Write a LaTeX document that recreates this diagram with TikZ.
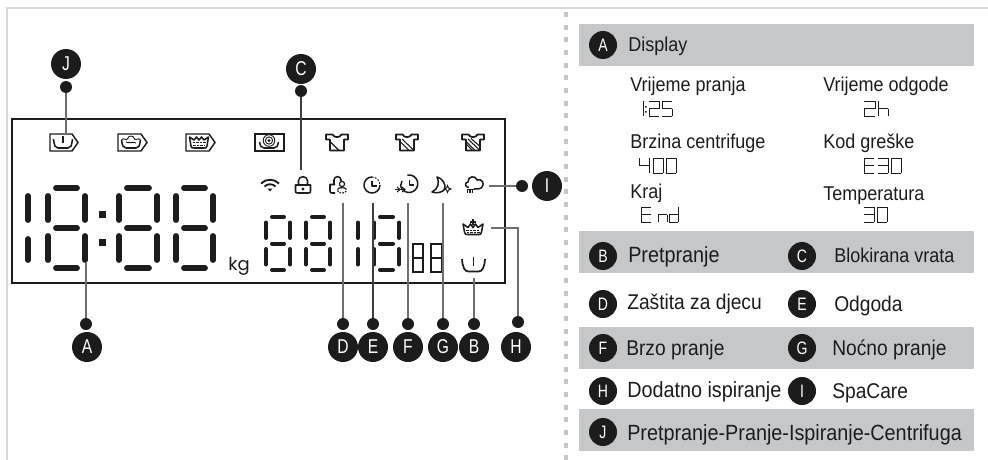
\documentclass[tikz,border=0pt]{standalone}
\usepackage{fontspec}
\setmainfont{Liberation Sans}
\newfontfamily\narrowfont[FakeStretch=0.9]{Liberation Sans}
\newfontfamily\badgefont[FakeStretch=0.78]{Liberation Sans}
\newfontfamily\kgfont{Poppins}
\definecolor{ink}{HTML}{1C1C1C}
\definecolor{barc}{HTML}{C6C7C9}
\definecolor{framec}{HTML}{DADADA}
\definecolor{leadc}{HTML}{6E6E6E}
\newcommand\sga[4]{(#1,#2) -- (#1+#3,#2)}
\newcommand\sgg[4]{(#1,#2+#4/2) -- (#1+#3,#2+#4/2)}
\newcommand\sgd[4]{(#1,#2+#4) -- (#1+#3,#2+#4)}
\newcommand\sgf[4]{(#1,#2) -- (#1,#2+#4/2)}
\newcommand\sge[4]{(#1,#2+#4/2) -- (#1,#2+#4)}
\newcommand\sgb[4]{(#1+#3,#2) -- (#1+#3,#2+#4/2)}
\newcommand\sgc[4]{(#1+#3,#2+#4/2) -- (#1+#3,#2+#4)}
% x, y, w, h, style, segments
\newcommand\sevenseg[6]{\foreach \s in {#6}{\draw[#5] \csname sg\s\endcsname{#1}{#2}{#3}{#4};}}
% big LCD segments, inset from the digit's corners
\newcommand\bigH[3]{\draw[bigseg] (#1+8,#3) -- (#2-8,#3);}
\newcommand\bigV[3]{\draw[bigseg] (#1,#2+8) -- (#1,#3-8);}
\newcommand\bigEight[2]{\bigH{#1}{#2}{188}\bigH{#1}{#2}{228}\bigH{#1}{#2}{268}\bigV{#1}{188}{228}\bigV{#1}{228}{268}\bigV{#2}{188}{228}\bigV{#2}{228}{268}}
\newcommand\midH[3]{\draw[midseg] (#1+6,#3) -- (#2-6,#3);}
\newcommand\midV[3]{\draw[midseg] (#1,#2+5.5) -- (#1,#3-5.5);}
\newcommand\midEight[2]{\midH{#1}{#2}{217}\midH{#1}{#2}{243.5}\midH{#1}{#2}{270}\midV{#1}{217}{243.5}\midV{#1}{243.5}{270}\midV{#2}{217}{243.5}\midV{#2}{243.5}{270}}
\newcommand\tubshape{(-9.5,-4) .. controls (-8.5,3) and (-8,5) .. (-5,5) -- (5,5) .. controls (8,5) and (8.5,3) .. (9.5,-4)}
\tikzset{
  x=0.75pt,y=-0.75pt,
  bigseg/.style={line width=4.4pt,line cap=round,draw=ink},
  midseg/.style={line width=3pt,line cap=round,draw=ink},
  lcdtxt/.style={line width=0.7pt,draw=ink},
  outseg/.style={line width=0.8pt,draw=ink},
  icon/.style={line width=1.15pt,draw=ink,line join=round},
  iconthin/.style={line width=0.7pt,draw=ink},
  boxicon/.style={line width=1.1pt,draw=ink,fill=white},
  lead/.style={line width=0.8pt,draw=leadc},
  leaddark/.style={line width=0.8pt,draw=ink!85},
  badge/.style={circle,fill=ink,text=white,inner sep=0pt,minimum size=22.5pt,font=\badgefont\fontsize{15}{15}\selectfont},
  lbadge/.style={circle,fill=ink,text=white,inner sep=0pt,minimum size=21pt,font=\badgefont\fontsize{13.5}{14}\selectfont},
  dotn/.style={circle,fill=ink,inner sep=0pt,minimum size=9pt},
  bar/.style={fill=barc,draw=none},
  ltext/.style={anchor=base west,inner sep=0pt,text=ink,font=\narrowfont\fontsize{15}{15}\selectfont},
  ltextb/.style={ltext,font=\narrowfont\fontsize{16}{16}\selectfont},
  ltextc/.style={ltext,font=\narrowfont\fontsize{16.5}{17}\selectfont},
}
\begin{document}
\begin{tikzpicture}
\useasboundingbox[fill=white] (0,0) rectangle (988,460);
% page frame and dashed divider
\draw[framec,line width=1.5pt] (7,460) -- (7,8.5) -- (988,8.5);
\draw[gray!45,line width=2.4pt,dash pattern=on 3.75pt off 5.75pt] (566,12) -- (566,460);
% display frame
\draw[ink,line width=0.95pt] (12,119) rectangle (505,283);
% big digits
\draw[bigseg] (28,196) -- (28,220);\draw[bigseg] (28,239) -- (28,260);
\bigEight{48}{85}
\fill[ink] (98.5,210.5) rectangle (105.5,217.5);
\fill[ink] (98.5,238.5) rectangle (105.5,245.5);
\bigEight{119}{157}
\bigEight{176}{213}
\node[anchor=base west,inner sep=0pt,text=ink,font=\kgfont\fontsize{13.5}{14}\selectfont] (kg) at (228,270) {kg};
% medium digits
\midEight{266}{290}
\midEight{306}{330}
\midV{358}{217}{243.5}\midV{358}{243.5}{270}
\midEight{374}{399}
% small outline digits
\draw[outseg] (413,244) rectangle (423,272) (413,258) -- (423,258);
\draw[outseg] (431,244) rectangle (442,272) (431,258) -- (442,258);
% programme icons
\draw[boxicon] (50,134) -- (72,134) -- (78,142.5) -- (72,151) -- (50,151) -- cycle;
\draw[boxicon] (118,134) -- (141,134) -- (147,142.5) -- (141,151) -- (118,151) -- cycle;
\draw[boxicon] (186,134) -- (209,134) -- (215,142.5) -- (209,151) -- (186,151) -- cycle;
\draw[boxicon] (255,134) rectangle (284,151);
\begin{scope}[shift={(63,143)}]
 \draw[icon] \tubshape; \draw[icon] (0,-7) -- (0,0);
\end{scope}
\begin{scope}[shift={(131,143)}]
 \draw[icon] (-9.5,-3) .. controls (-8.5,3) and (-8,5) .. (-5,5) -- (5,5) .. controls (8,5) and (8.5,3) .. (9.5,-3);
 \draw[iconthin] (-9.5,-3) .. controls (-7,-6) and (-5,-2) .. (-3.5,-4) .. controls (-3,-8) and (3,-8) .. (3.5,-4) .. controls (5,-2) and (7,-6) .. (9.5,-3);
 \draw[iconthin] (-5,-1) .. controls (-2,1) and (2,-2) .. (5,0);
\end{scope}
\begin{scope}[shift={(199,143)}]
 \draw[icon] (-9.5,-6) -- (-8,3) .. controls (-7.5,5) and (-7,5) .. (-5,5) -- (5,5) .. controls (7,5) and (7.5,5) .. (8,3) -- (9.5,-6) -- (5,-3) -- (2.5,-6) -- (0,-3) -- (-2.5,-6) -- (-5,-3) -- cycle;
 \draw[iconthin,dash pattern=on 2pt off 0.7pt] (-6.5,-0.5) -- (6.5,-0.5) (-6,2) -- (6,2);
\end{scope}
\begin{scope}[shift={(269,143)}]
 \draw[icon] (-9.5,-1) .. controls (-8.5,3) and (-8,5) .. (-5,5) -- (5,5) .. controls (8,5) and (8.5,3) .. (9.5,-1);
 \draw[iconthin,fill=white] (0,-2.5) circle[radius=5.8];
 \draw[iconthin] (0,-2.5) circle[radius=3.6];
 \fill[ink] (0,-2.5) circle[radius=1.6];
\end{scope}
\foreach \cx/\n in {337/1,407/2,473/3}{
\begin{scope}[shift={(\cx,142.5)}]
 \draw[icon,line width=1.3pt] (-11,-8) -- (-4.5,-8) .. controls (-3,-4.5) and (3,-4.5) .. (4.5,-8) -- (11,-8) -- (11,-3) -- (7,-3) -- (7,8) -- (-7,8) -- (-7,-3) -- (-11,-3) -- cycle;
 \draw[iconthin,line width=0.8pt] (-6.5,-0.5) -- (1.5,7.5);
 \ifnum\n>1 \draw[iconthin,line width=0.8pt] (-5,-3.5) -- (6.5,7.5); \fi
 \ifnum\n>2 \draw[iconthin,line width=0.8pt] (-2,-4) -- (6.5,3.5); \draw[iconthin,line width=0.8pt] (-6.5,2) -- (-1,7.5); \fi
\end{scope}}
% wifi
\begin{scope}[shift={(270,185)}]
 \draw[icon,line width=1.4pt] (-9,-1.5) .. controls (-4,-6.5) and (4,-6.5) .. (9,-1.5);
 \draw[icon,line width=1.4pt] (-5.5,1.5) .. controls (-2.5,-1.5) and (2.5,-1.5) .. (5.5,1.5);
 \fill[ink] (-2.5,3.5) -- (2.5,3.5) -- (0,6.5) -- cycle;
\end{scope}
% lock
\begin{scope}[shift={(303,185)}]
 \draw[icon] (-7.5,0) -- (7.5,0) -- (7.5,6) .. controls (7.5,7.5) and (7,8) .. (5.5,8) -- (-5.5,8) .. controls (-7,8) and (-7.5,7.5) .. (-7.5,6) -- cycle;
 \draw[icon] (-4.5,0) -- (-4.5,-4.5) .. controls (-4.5,-9.5) and (4.5,-9.5) .. (4.5,-4.5) -- (4.5,0);
 \fill[ink] (0,4) circle[radius=1.6];
\end{scope}
% child lock
\begin{scope}[shift={(337,185)}]
 \draw[icon] (-3,-0.5) -- (-3,-5) .. controls (-3,-9.5) and (4,-9.5) .. (4,-5) -- (4,-4);
 \draw[icon] (-2,-0.5) -- (-7,-0.5) -- (-7,6) .. controls (-7,7.5) and (-6.5,8) .. (-5,8) -- (-2,8);
 \draw[iconthin,line width=0.9pt] (5,-1) circle[radius=2.6];
 \draw[iconthin,line width=0.9pt] (0.5,4.5) .. controls (1.5,2) and (8.5,2) .. (9.5,4.5);
 \draw[iconthin,line width=0.9pt,dash pattern=on 1.2pt off 1pt] (0.5,5.5) .. controls (1,9) and (9,9) .. (9.5,5.5);
\end{scope}
% delay clock
\begin{scope}[shift={(372,185)}]
 \draw[icon] (8,0) arc[start angle=0,end angle=270,radius=8];
 \draw[icon,line width=0.8pt,dash pattern=on 1.2pt off 1.2pt] (0,-8) arc[start angle=270,end angle=360,radius=8];
 \draw[icon] (0,-4.5) -- (0,1) -- (4.5,1);
\end{scope}
% quick wash
\begin{scope}[shift={(409,184)}]
 \draw[icon] (-8.5,2) arc[start angle=165,end angle=-100,radius=8.8];
 \draw[icon] (-8.5,2) -- (-7,-3);
 \draw[icon] (0.5,-4.5) -- (0.5,1) -- (5,1);
 \draw[iconthin,line width=0.8pt] (-14,5.5) -- (-5,5.5);
 \draw[iconthin,line width=0.8pt] (-12,3) -- (-9,5.5) -- (-12,8) (-7,3) -- (-4,5.5) -- (-7,8);
\end{scope}
% night wash
\begin{scope}[shift={(440,185)}]
 \draw[icon] (-3,-8) .. controls (0,-2) and (-2,4) .. (-8,7) .. controls (-4,8.5) and (2,8) .. (5,4) .. controls (6,-1) and (2,-7) .. (-3,-8) -- cycle;
 \draw[iconthin,fill=white] (7.5,0.5) -- (8.5,3) -- (11,4) -- (8.5,5) -- (7.5,7.5) -- (6.5,5) -- (4,4) -- (6.5,3) -- cycle;
\end{scope}
% spacare
\begin{scope}[shift={(474,185)}]
 \draw[icon] (-5,2.5) .. controls (-9,2.5) and (-10,-2.5) .. (-6,-3) .. controls (-6.5,-9) and (2,-10) .. (3,-5) .. controls (8,-7) and (11,-1) .. (8,2) .. controls (7,4) and (3,4) .. (0,4);
 \draw[iconthin,line width=0.8pt] (-6.5,3.5) -- (-6.5,8) (-4,3.5) -- (-4,8) (-1.5,3.5) -- (-1.5,8) (-7.5,4.5) -- (-0.5,4.5);
\end{scope}
% extra rinse crown
\begin{scope}[shift={(473,229)}]
 \draw[icon] (-10,-5) -- (-8.5,3) .. controls (-8,5) and (-7.5,5.5) .. (-6,5.5) -- (6,5.5) .. controls (7.5,5.5) and (8,5) .. (8.5,3) -- (10,-5) -- (5,-1.5) -- (2.5,-5) -- (0,-1.5) -- (-2.5,-5) -- (-5,-1.5) -- cycle;
 \draw[iconthin,dash pattern=on 2pt off 0.7pt] (-7,1) -- (7,1) (-6.5,3.2) -- (6.5,3.2);
 \draw[icon,line width=0.9pt] (-3,-7) -- (3,-7) (0,-10) -- (0,-4.5);
\end{scope}
% prewash tub
\begin{scope}[shift={(473.5,264)}]
 \draw[icon,line width=1.3pt] (-11.5,-5) .. controls (-11,3) and (-9,7.5) .. (-5,7.5) -- (5,7.5) .. controls (9,7.5) and (11,3) .. (11.5,-5);
 \draw[icon,line width=1.3pt] (0,-7) -- (0,2);
\end{scope}
% anchors of the leaders
\coordinate (tJ) at (66,134);
\coordinate (tC) at (301,170);
\coordinate (tA) at (86,263);
\coordinate (tD) at (343,203);
\coordinate (tE) at (373,203);
\coordinate (tF) at (408,203);
\coordinate (tG) at (443,203);
\coordinate (tB) at (474,278);
\coordinate (tH) at (491,228);
\coordinate (tI) at (489,186);
% badges and dots
\node[badge] (J) at (66,64) {J};
\node[dotn] (dJ) at (66,87) {};
\node[badge] (C) at (301,69) {C};
\node[dotn] (dC) at (301,91) {};
\node[badge] (I) at (547,186) {I};
\node[dotn] (dI) at (522,186) {};
\node[badge] (A) at (87,347) {A};
\node[dotn] (dA) at (86,324) {};
\node[badge] (D) at (343,347) {D};
\node[dotn] (dD) at (343,324) {};
\node[badge] (E) at (373,347) {E};
\node[dotn] (dE) at (373,324) {};
\node[badge] (F) at (408,347) {F};
\node[dotn] (dF) at (408,324) {};
\node[badge] (G) at (443,347) {G};
\node[dotn] (dG) at (443,324) {};
\node[badge] (B) at (474,347) {B};
\node[dotn] (dB) at (474,324) {};
\node[badge] (H) at (516,347) {H};
\node[dotn] (dH) at (518,322) {};
% leaders
\draw[lead] (dJ) -- (tJ);
\draw[leaddark] (dC) -- (tC);
\draw[lead] (dI) -- (tI);
\draw[lead] (dA) -- (tA);
\draw[lead] (dD) -- (tD);
\draw[leaddark] (dE) -- (tE);
\draw[lead] (dF) -- (tF);
\draw[lead] (dG) -- (tG);
\draw[lead] (dB) -- (tB);
\draw[lead] (dH) |- (tH);
% legend bars
\fill[bar] (579,24) rectangle (974,66);
\fill[bar] (579,231) rectangle (974,273);
\fill[bar] (579,327) rectangle (974,369);
\fill[bar] (579,409) rectangle (974,451);
% legend badges
\node[lbadge] (lA) at (603,45) {A};
\node[lbadge] (lB) at (603,256) {B};
\node[lbadge] (lC) at (802,256) {C};
\node[lbadge] (lD) at (603,304) {D};
\node[lbadge] (lE) at (802,304) {E};
\node[lbadge] (lF) at (603,348) {F};
\node[lbadge] (lG) at (802,348) {G};
\node[lbadge] (lH) at (603,391) {H};
\node[lbadge] (lI) at (802,391) {I};
\node[lbadge] (lJ) at (603,432) {J};
% legend texts
\node[ltext] (tDisplay) at (628,52) {Display};
\node[ltext] (t1) at (630,91) {Vrijeme pranja};
\node[ltext] (t2) at (823,91) {Vrijeme odgode};
\node[ltext] (t3) at (630,148) {Brzina centrifuge};
\node[ltext] (t4) at (823,148) {Kod greške};
\node[ltext] (t5) at (630,198) {Kraj};
\node[ltext] (t6) at (823,200) {Temperatura};
\node[ltextc] (t7) at (628,262) {Pretpranje};
\node[ltext] (t8) at (834,262) {Blokirana vrata};
\node[ltextb] (t9) at (627,309) {Zaštita za djecu};
\node[ltextb] (t10) at (834,311) {Odgoda};
\node[ltextb] (t11) at (626,355) {Brzo pranje};
\node[ltextb] (t12) at (832,355) {Noćno pranje};
\node[ltextc] (t13) at (627,397) {Dodatno ispiranje};
\node[ltextb] (t14) at (832,398) {SpaCare};
\node[ltextc] (t15) at (627,440) {Pretpranje-Pranje-Ispiranje-Centrifuga};
% seven-segment samples in the legend
% 1:25
\sevenseg{643}{101}{0}{15}{lcdtxt}{b,c}
\fill[ink] (645,106) rectangle (646.5,107.5) (645,111) rectangle (646.5,112.5);
\sevenseg{649}{101}{10}{15}{lcdtxt}{a,b,g,e,d}
\sevenseg{662}{101}{10}{15}{lcdtxt}{a,f,g,c,d}
% 2h
\sevenseg{864}{101}{11}{15}{lcdtxt}{a,b,g,e,d}
\sevenseg{878}{101}{10}{15}{lcdtxt}{f,g,c,e}
% 400
\sevenseg{639}{158}{10}{15}{lcdtxt}{f,g,b,c}
\sevenseg{653}{158}{10}{15}{lcdtxt}{a,b,c,d,e,f}
\sevenseg{666}{158}{10}{15}{lcdtxt}{a,b,c,d,e,f}
% E30
\sevenseg{864}{158}{10}{15}{lcdtxt}{a,f,g,e,d}
\sevenseg{878}{158}{10}{15}{lcdtxt}{a,b,g,c,d}
\sevenseg{891}{158}{10}{15}{lcdtxt}{a,b,c,d,e,f}
% End
\sevenseg{641}{207}{10}{15}{lcdtxt}{a,f,g,e,d}
\sevenseg{658}{207}{9}{15}{lcdtxt}{g,e,c}
\sevenseg{669}{207}{9}{15}{lcdtxt}{b,c,g,e,d}
% 30
\sevenseg{864}{207}{10}{15}{lcdtxt}{a,b,g,c,d}
\sevenseg{877}{207}{10}{15}{lcdtxt}{a,b,c,d,e,f}
\end{tikzpicture}
\end{document}
